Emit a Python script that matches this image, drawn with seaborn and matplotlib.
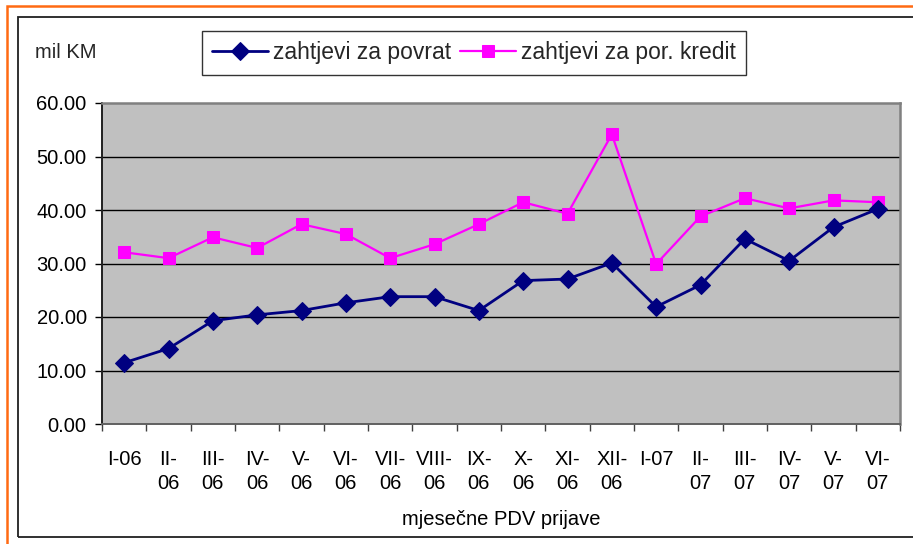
import matplotlib
matplotlib.use("Agg")
import matplotlib.pyplot as plt
import seaborn as sns
import pandas as pd
import numpy as np
from matplotlib.patches import Rectangle

months = ["I-06", "II-\n06", "III-\n06", "IV-\n06", "V-\n06", "VI-\n06", "VII-\n06",
          "VIII-\n06", "IX-\n06", "X-\n06", "XI-\n06", "XII-\n06", "I-07", "II-\n07",
          "III-\n07", "IV-\n07", "V-\n07", "VI-\n07"]
povrat = [11.45, 14.1, 19.3, 20.4, 21.2, 22.65, 23.8, 23.8, 21.2, 26.8, 27.1, 30.1,
          21.9, 26.0, 34.6, 30.5, 36.8, 40.2]
kredit = [32.1, 31.0, 34.9, 32.9, 37.35, 35.5, 31.0, 33.6, 37.35, 41.45, 39.3, 54.15,
          29.9, 38.8, 42.2, 40.3, 41.8, 41.45]
series_names = ["zahtjevi za povrat", "zahtjevi za por. kredit"]
y_ticks = [0, 10, 20, 30, 40, 50, 60]

sns.set_theme(style="white")
plt.rcParams['font.family'] = ['Liberation Sans', 'DejaVu Sans']
FS = 14.5
LFS = 16.5

W, H = 913, 544
fig = plt.figure(figsize=(W / 100, H / 100), dpi=100)
fig.patch.set_facecolor("white")

L, R, T, B = 102, 900, 103, 424
ax = fig.add_axes([L / W, 1 - B / H, (R - L) / W, (B - T) / H])
ax.set_facecolor("#C0C0C0")

idx = np.arange(len(months))
df = pd.DataFrame({"idx": idx, "povrat": povrat, "kredit": kredit})

sns.lineplot(data=df, x="idx", y="povrat", ax=ax, color="#000080", lw=2,
             marker="D", markersize=9, markeredgecolor="#000080",
             label=series_names[0], zorder=4)
sns.lineplot(data=df, x="idx", y="kredit", ax=ax, color="#FF00FF", lw=1.6,
             marker="s", markersize=8.5, markeredgecolor="#FF00FF",
             label=series_names[1], zorder=3)

ax.set_xlim(-0.5, len(months) - 0.5)
ax.set_ylim(0, 60)
ax.set_yticks(y_ticks)
ax.set_yticklabels([f"{v:.2f}" for v in y_ticks], fontsize=FS, color="black")
for v in y_ticks[1:-1]:
    ax.axhline(v, color="black", lw=1, zorder=1)

ax.set_xticks(np.arange(len(months) + 1) - 0.5)
ax.set_xticklabels([])
ax.set_xticks(idx, minor=True)
ax.set_xticklabels(months, minor=True, fontsize=FS, linespacing=1.3, color="black")
ax.tick_params(axis="x", which="major", direction="out", length=5, width=1,
               color="#404040", bottom=True)
ax.tick_params(axis="x", which="minor", length=0, pad=19)
ax.tick_params(axis="y", direction="out", length=5, width=1, color="black",
               left=True, pad=6)

for s in ["top", "right"]:
    ax.spines[s].set_color("#808080")
    ax.spines[s].set_linewidth(1.8)
ax.spines["left"].set_color("#202020")
ax.spines["left"].set_linewidth(1.4)
ax.spines["bottom"].set_color("#606060")
ax.spines["bottom"].set_linewidth(1.4)

ax.set_xlabel("mjesečne PDV prijave", fontsize=FS, labelpad=12, color="black")
ax.set_ylabel("")

leg = ax.legend(loc="upper left", bbox_to_anchor=(202 / W, 1 - 31 / H),
                bbox_transform=fig.transFigure, ncol=2, fontsize=LFS,
                frameon=True, fancybox=False, edgecolor="black",
                handlelength=2.45, handletextpad=0.2, columnspacing=0.4,
                borderpad=0.45, borderaxespad=0)
leg.get_frame().set_linewidth(1)

fig.text(35 / W, 1 - 53 / H, "mil KM", fontsize=FS, ha="left", va="center")

fig.patches.append(Rectangle((7 / W, 1 - 560 / H), 1.2, 554 / H,
                             transform=fig.transFigure, fill=False,
                             edgecolor="#FF6A13", lw=1.8))
fig.patches.append(Rectangle((18 / W, 1 - 537 / H), 1.2, 520 / H,
                             transform=fig.transFigure, fill=False,
                             edgecolor="#202020", lw=1.3))

fig.savefig("out.png", dpi=100)
